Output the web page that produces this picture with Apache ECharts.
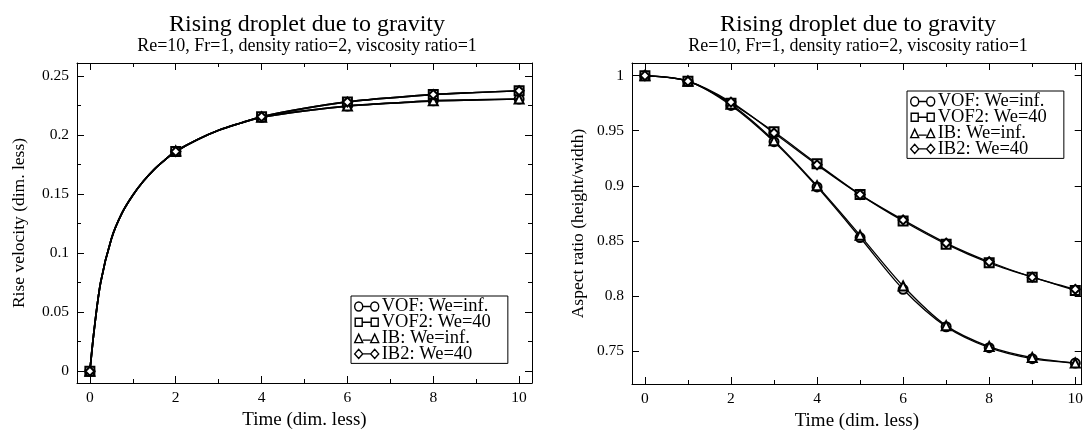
<!DOCTYPE html>
<html>
<head>
<meta charset="utf-8">
<script src="https://cdn.jsdelivr.net/npm/echarts@6/dist/echarts.min.js"></script>
<style>
html,body{margin:0;padding:0;background:#fff;}
#c{width:1086px;height:438px;}
</style>
</head>
<body>
<div id="c"></div>
<script>
// ---------- data ----------
const seriesNames = ['VOF: We=inf.', 'VOF2: We=40', 'IB: We=inf.', 'IB2: We=40'];
const seriesSymbols = ['emptyCircle', 'emptyRect', 'emptyTriangle', 'emptyDiamond'];

// Left panel: rise velocity
const leftTime = [0, 0.1, 0.25, 0.5, 0.75, 1, 1.25, 1.5, 1.75, 2, 2.5, 3, 3.5, 4, 5, 6, 7, 8, 9, 10];
const leftVOF  = [0, 0.035, 0.075, 0.112, 0.134, 0.149, 0.161, 0.171, 0.179, 0.186, 0.196, 0.204, 0.210, 0.215, 0.2205, 0.2245, 0.227, 0.229, 0.2298, 0.2305];
const leftVOF2 = [0, 0.035, 0.075, 0.112, 0.134, 0.149, 0.161, 0.171, 0.179, 0.186, 0.196, 0.204, 0.210, 0.2155, 0.2225, 0.228, 0.2315, 0.2343, 0.236, 0.2375];
const leftIB   = [0, 0.035, 0.075, 0.112, 0.134, 0.149, 0.161, 0.171, 0.179, 0.1865, 0.196, 0.204, 0.210, 0.215, 0.2205, 0.2245, 0.227, 0.229, 0.2298, 0.2305];
const leftIB2  = [0, 0.035, 0.075, 0.112, 0.134, 0.149, 0.161, 0.171, 0.179, 0.186, 0.196, 0.204, 0.210, 0.2155, 0.2225, 0.228, 0.2315, 0.2343, 0.236, 0.2375];
const leftMarkerTimes = [0, 2, 4, 6, 8, 10];

// Right panel: aspect ratio
const rightTime = [0, 1, 2, 3, 4, 5, 6, 7, 8, 9, 10];
const rightVOF  = [1.0, 0.995, 0.973, 0.940, 0.899, 0.853, 0.806, 0.772, 0.753, 0.743, 0.739];
const rightVOF2 = [1.0, 0.995, 0.975, 0.949, 0.920, 0.892, 0.868, 0.847, 0.830, 0.817, 0.805];
const rightIB   = [1.0, 0.995, 0.974, 0.941, 0.900, 0.855, 0.809, 0.773, 0.754, 0.744, 0.739];
const rightIB2  = [1.0, 0.995, 0.976, 0.948, 0.919, 0.892, 0.869, 0.848, 0.831, 0.817, 0.806];

// Ticks
const xTicks = [0, 2, 4, 6, 8, 10];
const xMinorTicks = [1, 3, 5, 7, 9];
const leftYTicks = [0, 0.05, 0.1, 0.15, 0.2, 0.25];
const leftYMinorTicks = [0.025, 0.075, 0.125, 0.175, 0.225];
const rightYTicks = [0.75, 0.8, 0.85, 0.9, 0.95, 1];
const rightYMinorTicks = [];

// Text
const titleText = 'Rising droplet due to gravity';
const subtitleText = 'Re=10, Fr=1, density ratio=2, viscosity ratio=1';
const xName = 'Time (dim. less)';
const leftYName = 'Rise velocity (dim. less)';
const rightYName = 'Aspect ratio (height/width)';

// ---------- chart ----------
const FONT = '"Liberation Serif", "DejaVu Serif", serif';
const BLACK = '#000';

// legend icons: marker - line - marker
const legendIcons = [
  'path://M0,4.5 A4,4.5 0 1,1 8,4.5 A4,4.5 0 1,1 0,4.5 Z M8,4.5 H16 M16,4.5 A4,4.5 0 1,1 24,4.5 A4,4.5 0 1,1 16,4.5 Z',
  'path://M0.5,0.5 H7.5 V8.5 H0.5 Z M7.5,4.5 H16.5 M16.5,0.5 H23.5 V8.5 H16.5 Z M0,0 M24,9',
  'path://M0,9 L4,0.5 L8,9 Z M8,6.5 H16 M16,9 L20,0.5 L24,9 Z M0,0',
  'path://M0,4.5 L4,0 L8,4.5 L4,9 Z M8,4.5 H16 M16,4.5 L20,0 L24,4.5 L20,9 Z'
];

function makeAxes(kind, gridIndex, min, max, major, minor, name, nameGap) {
  const isX = kind === 'x';
  const posMain = isX ? 'bottom' : 'left';
  const posOpp = isX ? 'top' : 'right';
  const base = {
    type: 'value', gridIndex, min, max,
    splitLine: {show: false},
    axisLine: {show: true, onZero: false, lineStyle: {color: BLACK, width: 1}},
  };
  const axes = [];
  axes.push(Object.assign({}, base, {
    position: posMain,
    name, nameLocation: 'middle', nameGap,
    nameTextStyle: {fontFamily: FONT, fontSize: isX ? 19 : 17.5, color: BLACK},
    axisTick: {show: true, inside: true, length: 7, customValues: major, lineStyle: {color: BLACK}},
    axisLabel: {show: true, customValues: major, fontFamily: FONT, fontSize: 15.5, color: BLACK, margin: isX ? 7 : 8}
  }));
  axes.push(Object.assign({}, base, {
    position: posMain,
    axisLine: {show: false, onZero: false},
    axisTick: {show: minor.length > 0, inside: true, length: 4, customValues: minor.length ? minor : [min], lineStyle: {color: BLACK}},
    axisLabel: {show: false}
  }));
  axes.push(Object.assign({}, base, {
    position: posOpp,
    axisTick: {show: true, inside: true, length: 7, customValues: major, lineStyle: {color: BLACK}},
    axisLabel: {show: false}
  }));
  axes.push(Object.assign({}, base, {
    position: posOpp,
    axisLine: {show: false, onZero: false},
    axisTick: {show: minor.length > 0, inside: true, length: 4, customValues: minor.length ? minor : [min], lineStyle: {color: BLACK}},
    axisLabel: {show: false}
  }));
  return axes;
}

const xAxis = [].concat(
  makeAxes('x', 0, -0.3, 10.3, xTicks, xMinorTicks, xName, 22),
  makeAxes('x', 1, -0.3, 10.15, xTicks, xMinorTicks, xName, 22)
);
const yAxis = [].concat(
  makeAxes('y', 0, -0.01, 0.261, leftYTicks, leftYMinorTicks, leftYName, 49),
  makeAxes('y', 1, 0.72, 1.0115, rightYTicks, rightYMinorTicks, rightYName, 45)
);

function pairs(t, v) { return t.map((x, i) => [x, v[i]]); }

const leftData = [leftVOF, leftVOF2, leftIB, leftIB2];
const rightData = [rightVOF, rightVOF2, rightIB, rightIB2];

const series = [];
leftData.forEach((vals, i) => {
  series.push({
    name: seriesNames[i], type: 'line', xAxisIndex: 0, yAxisIndex: 0,
    data: pairs(leftTime, vals),
    smooth: 0.3,
    symbol: seriesSymbols[i],
    symbolSize: (v) => leftMarkerTimes.indexOf(v[0]) >= 0 ? 9 : 0,
    showAllSymbol: true,
    lineStyle: {color: BLACK, width: 1.7},
    itemStyle: {color: BLACK, borderColor: BLACK, borderWidth: 1.4},
    animation: false, z: 2 + i
  });
});
rightData.forEach((vals, i) => {
  series.push({
    name: seriesNames[i], type: 'line', xAxisIndex: 4, yAxisIndex: 4,
    data: pairs(rightTime, vals),
    smooth: 0.3,
    symbol: seriesSymbols[i],
    symbolSize: 9,
    showAllSymbol: true,
    lineStyle: {color: BLACK, width: 1.3},
    itemStyle: {color: BLACK, borderColor: BLACK, borderWidth: 1.4},
    animation: false, z: 2 + i
  });
});

const legendCommon = {
  orient: 'vertical',
  data: seriesNames.map((n, i) => ({name: n, icon: legendIcons[i]})),
  backgroundColor: '#fff',
  borderColor: BLACK, borderWidth: 1, borderRadius: 0,
  padding: [1, 17, 0, 3],
  itemWidth: 24, itemHeight: 9, itemGap: -3.2,
  symbolKeepAspect: true,
  selectedMode: false,
  itemStyle: {color: 'rgba(0,0,0,0)', borderColor: BLACK, borderWidth: 1.4},
  lineStyle: {color: BLACK, width: 1.4},
  textStyle: {fontFamily: FONT, fontSize: 18.5, color: BLACK, padding: [0, 0, 0, -2]},
  z: 10
};

const option = {
  backgroundColor: '#fff',
  animation: false,
  title: [
    {text: titleText, subtext: subtitleText, left: 302, top: 8, textAlign: 'center', itemGap: 0,
     textStyle: {fontFamily: FONT, fontSize: 24, fontWeight: 'normal', color: BLACK},
     subtextStyle: {fontFamily: FONT, fontSize: 18, color: BLACK}},
    {text: titleText, subtext: subtitleText, left: 853, top: 8, textAlign: 'center', itemGap: 0,
     textStyle: {fontFamily: FONT, fontSize: 24, fontWeight: 'normal', color: BLACK},
     subtextStyle: {fontFamily: FONT, fontSize: 18, color: BLACK}}
  ],
  legend: [
    Object.assign({}, legendCommon, {left: 351, top: 296}),
    Object.assign({}, legendCommon, {left: 907, top: 91})
  ],
  grid: [
    {left: 77, top: 63, width: 455, height: 320},
    {left: 632, top: 63, width: 450, height: 321}
  ],
  xAxis, yAxis, series
};

const chart = echarts.init(document.getElementById('c'), null, {renderer: 'canvas'});
chart.setOption(option);
</script>
</body>
</html>
